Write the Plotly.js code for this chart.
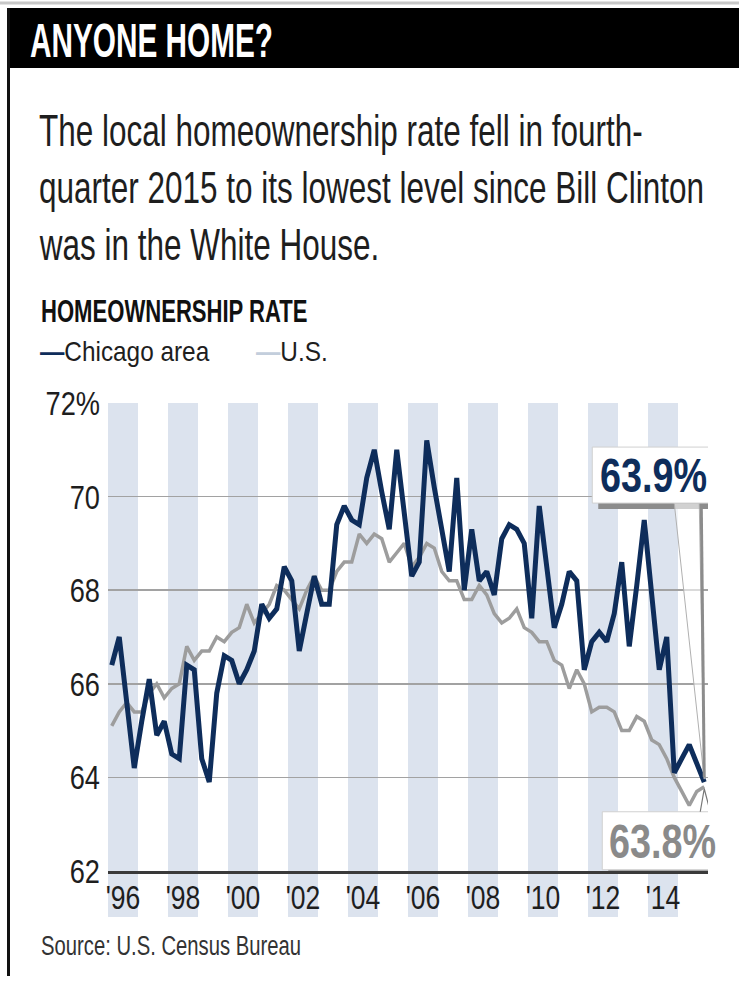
<!DOCTYPE html>
<html><head><meta charset="utf-8">
<script src="https://cdn.plot.ly/plotly-3.0.1.min.js"></script>
<style>html,body{margin:0;padding:0;background:#fff;}#chart{width:739px;height:981px;}</style>
</head><body><div id="chart"></div>
<script>
// ---- Data (quarterly homeownership rate, %) ----
const years = [1996,1997,1998,1999,2000,2001,2002,2003,2004,2005,2006,2007,2008,2009,2010,2011,2012,2013,2014,2015];
const quarters = ['Q1','Q2','Q3','Q4'];
const chicago = [
  66.4,67.0,65.6,64.2, 65.2,66.1,64.9,65.2, 64.5,64.4,66.4,66.3, 64.4,63.9,65.8,66.6,
  66.5,66.0,66.3,66.7, 67.7,67.4,67.6,68.5, 68.2,66.7,67.5,68.3, 67.7,67.7,69.4,69.8,
  69.5,69.4,70.4,71.0, 70.1,69.3,71.0,69.6, 68.3,68.6,71.2,70.2, 69.3,68.4,70.4,68.0,
  69.3,68.2,68.4,67.9, 69.1,69.4,69.3,69.0, 67.4,69.8,68.5,67.2, 67.7,68.4,68.2,66.3,
  66.9,67.1,66.9,67.5, 68.6,66.8,68.1,69.5, 67.9,66.3,67.0,64.1, 64.4,64.7,64.3,63.9
];
const us = [
  65.1,65.4,65.6,65.4, 65.4,65.8,66.0,65.7, 65.9,66.0,66.8,66.5, 66.7,66.7,67.0,66.9,
  67.1,67.2,67.7,67.3, 67.5,67.7,68.1,68.0, 67.8,67.6,68.0,68.3, 68.0,68.0,68.4,68.6,
  68.6,69.2,69.0,69.2, 69.1,68.6,68.8,69.0, 68.5,68.7,69.0,68.9, 68.4,68.2,68.2,67.8,
  67.8,68.1,67.9,67.5, 67.3,67.4,67.6,67.2, 67.1,66.9,66.9,66.5, 66.4,65.9,66.3,66.0,
  65.4,65.5,65.5,65.4, 65.0,65.0,65.3,65.2, 64.8,64.7,64.4,64.0, 63.7,63.4,63.7,63.8
];
const bandYears = [1996,1998,2000,2002,2004,2006,2008,2010,2012,2014];
const xTickLabels = ["'96","'98","'00","'02","'04","'06","'08","'10","'12","'14"];
const yTickVals = [62,64,66,68,70,72];
const yTickLabels = ['62','64','66','68','70','72%'];
const seriesNames = ['Chicago area','U.S.'];

// ---- Positions for quarters on a fractional-year axis ----
const xq = [];
years.forEach(y => quarters.forEach((q, k) => xq.push(y + (k + 0.5) / 4)));

// ---- Layout helpers (pixel -> paper) ----
const W = 739, H = 981, L = 108, R = 708, T = 403, B = 871;
const px = v => (v - L) / (R - L);
const py = v => (B - v) / (B - T);
const FONT = '"Liberation Sans", Arial, sans-serif';
const NAVY = '#0e2d5b', GRAY = '#9d9d9d', BAND = '#dce3ee', TXT = '#1e1e1e';

const traces = [
  {x: xq, y: us, name: seriesNames[1], type: 'scatter', mode: 'lines',
   line: {color: GRAY, width: 3.5}, hoverinfo: 'skip'},
  {x: xq, y: chicago, name: seriesNames[0], type: 'scatter', mode: 'lines',
   line: {color: NAVY, width: 5}, hoverinfo: 'skip'}
];

const lastX = xq[xq.length - 1];
const lastChi = chicago[chicago.length - 1];
const lastUS = us[us.length - 1];

const pix = (anchorY, extra) => Object.assign({xref: 'x', yref: 'y', xsizemode: 'pixel', ysizemode: 'pixel',
  xanchor: lastX, yanchor: anchorY, layer: 'above'}, extra);

const shapes = [];
bandYears.forEach(y => shapes.push({type: 'rect', xref: 'x', yref: 'paper', x0: y, x1: y + 1,
  y0: py(917), y1: 1, fillcolor: BAND, line: {width: 0}, layer: 'below'}));
shapes.push({type: 'line', xref: 'paper', yref: 'paper', x0: px(0), x1: px(W), y0: py(3), y1: py(3),
  line: {color: '#c8c8c8', width: 3}});
shapes.push({type: 'rect', xref: 'paper', yref: 'paper', x0: px(8), x1: px(W + 2), y0: py(68), y1: py(8),
  fillcolor: '#000', line: {width: 0}});
shapes.push({type: 'line', xref: 'paper', yref: 'paper', x0: px(8.5), x1: px(8.5), y0: py(976), y1: py(8),
  line: {color: '#111', width: 3}});
// callout for Chicago: shadow, pointer, box
shapes.push(pix(lastChi, {type: 'rect', x0: -106, x1: 16, y0: 273, y1: 329, fillcolor: '#8c8c8c', line: {width: 0}}));
shapes.push(pix(lastChi, {type: 'path', path: 'M -30,279 L 0,3 L -5,279 Z',
  fillcolor: 'rgba(255,255,255,0.6)', line: {color: '#b0b0b0', width: 1}}));
shapes.push(pix(lastChi, {type: 'path', path: 'M -3,279 L 0,5', line: {color: '#8c8c8c', width: 3}}));
shapes.push(pix(lastChi, {type: 'rect', x0: -112, x1: 10, y0: 279, y1: 335, fillcolor: '#ffffff',
  line: {color: '#d0d0d0', width: 1}}));
// callout for U.S.: shadow, box, pointer
shapes.push(pix(lastUS, {type: 'rect', x0: -96, x1: 24, y0: -89, y1: -31, fillcolor: '#9a9a9a', line: {width: 0}}));
shapes.push(pix(lastUS, {type: 'rect', x0: -102, x1: 18, y0: -83, y1: -25, fillcolor: '#ffffff',
  line: {color: '#d0d0d0', width: 1}}));
shapes.push(pix(lastUS, {type: 'path', path: 'M -4,-25 L 0,-2 L 6,-25', line: {color: '#777', width: 1.2}}));

const ann = (text, x, y, size, color) => ({
  text: text, xref: 'paper', yref: 'paper', x: px(x), y: py(y), xanchor: 'left', yanchor: 'middle',
  align: 'left', showarrow: false, font: {family: FONT, size: size, color: color || TXT}
});

const annotations = [
  ann('The local homeownership rate fell in fourth-', 37, 130, 45),
  ann('quarter 2015 to its lowest level since Bill Clinton', 37, 187, 45),
  ann('was in the White House.', 37, 244, 45),
  ann('<b>HOMEOWNERSHIP RATE</b>', 39, 311, 32, '#111'),
  ann('<span style="color:' + NAVY + '"><b>—</b></span>' + seriesNames[0], 38, 351, 28),
  ann('<span style="color:#c3cedc"><b>—</b></span>' + seriesNames[1], 254, 351, 28),
  ann('Source: U.S. Census Bureau', 39, 946, 27, '#333'),
  {text: '<b>' + lastChi.toFixed(1) + '%</b>', xref: 'x', yref: 'y', x: lastX, y: lastChi,
   xshift: -51, yshift: 307, showarrow: false, font: {family: FONT, size: 49, color: NAVY}},
  {text: '<b>' + lastUS.toFixed(1) + '%</b>', xref: 'x', yref: 'y', x: lastX, y: lastUS,
   xshift: -42, yshift: -54, showarrow: false, font: {family: FONT, size: 49, color: '#8a8a8a'}}
];
// horizontal condensing per annotation (the reference face is a condensed grotesque)
const annScale = [0.70, 0.70, 0.70, 0.69, 0.87, 0.87, 0.75, 0.77, 0.77];

const layout = {
  width: W, height: H,
  margin: {l: L, r: W - R, t: T, b: H - B, pad: 0},
  paper_bgcolor: '#fff', plot_bgcolor: 'rgba(0,0,0,0)',
  showlegend: false,
  title: {text: '<b>ANYONE HOME?</b>', x: 30 / W, xanchor: 'left', y: 1 - 40 / H, yanchor: 'middle',
          yref: 'container', xref: 'container', font: {family: FONT, size: 48, color: '#fff'}},
  xaxis: {range: [1996, 2016], tickvals: bandYears.map(y => y + 0.5), ticktext: xTickLabels,
          showgrid: false, zeroline: false, showline: true, linecolor: '#3a3a3a', linewidth: 2.5,
          ticks: '', ticklabelstandoff: -5, tickfont: {family: FONT, size: 34, color: TXT}, fixedrange: true},
  yaxis: {range: [62, 72], tickvals: yTickVals, ticktext: yTickLabels,
          showgrid: true, gridcolor: '#a2a2a2', gridwidth: 1.5, zeroline: false, showline: false,
          ticks: '', ticklabelstandoff: 7, tickfont: {family: FONT, size: 34, color: TXT}, fixedrange: true},
  shapes: shapes,
  annotations: annotations
};

function condense(el, s) {
  const bb = el.getBBox();
  const anchor = el.getAttribute('text-anchor') || 'start';
  const ax = anchor === 'end' ? bb.x + bb.width : anchor === 'middle' ? bb.x + bb.width / 2 : bb.x;
  const prev = el.getAttribute('transform') || '';
  el.setAttribute('transform', prev + ' translate(' + ax + ',0) scale(' + s + ',1) translate(' + (-ax) + ',0)');
}

Plotly.newPlot('chart', traces, layout, {displayModeBar: false, staticPlot: true}).then(gd => {
  const t = gd.querySelector('.gtitle');
  if (t) condense(t, 0.62);
  gd.querySelectorAll('.annotation-text').forEach((el, i) => condense(el, annScale[i] || 1));
  gd.querySelectorAll('.xtick text').forEach(el => condense(el, 0.78));
  gd.querySelectorAll('.ytick text').forEach(el => condense(el, 0.8));
});
</script></body></html>
